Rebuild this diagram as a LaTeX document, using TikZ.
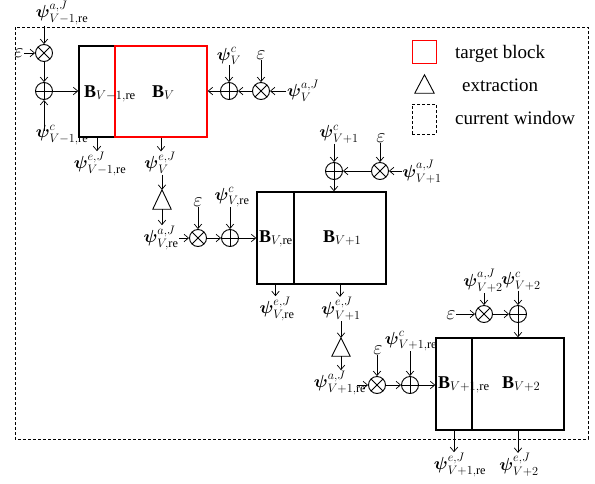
\documentclass[tikz,border=0pt]{standalone}
\usepackage{fix-cm}
\usepackage{amsmath}
\usepackage{fontspec}
\setmainfont{Liberation Serif}
\usetikzlibrary{arrows.meta,calc}
\newcommand\psilab[2]{$\boldsymbol{\psi}^{#1}_{#2}$}
\begin{document}
\begin{tikzpicture}[x=1pt,y=-1pt,
  arr/.style={-{Straight Barb[length=4.5pt,width=7.5pt]}, line width=0.7pt},
  lab/.style={inner sep=0.5pt, font=\fontsize{17.5}{20}\selectfont},
  eps/.style={inner sep=0.5pt, font=\fontsize{20}{22}\selectfont},
  blk/.style={draw, line width=1.4pt, inner sep=0},
  btxt/.style={inner sep=0, font=\fontsize{18}{20}\selectfont, anchor=base west},
  opx/.style={circle, draw, line width=0.9pt, minimum size=17pt, inner sep=0},
  xmul/.style={opx, path picture={\draw[line width=0.9pt] (path picture bounding box.north west) -- (path picture bounding box.south east) (path picture bounding box.north east) -- (path picture bounding box.south west);}},
  xadd/.style={opx, path picture={\draw[line width=0.9pt] (path picture bounding box.north) -- (path picture bounding box.south) (path picture bounding box.west) -- (path picture bounding box.east);}},
  tri/.style={inner sep=0, minimum width=18pt, minimum height=19pt},
  trid/.style={line width=0.9pt, line join=miter},
  legtxt/.style={inner sep=0, font=\fontsize{19}{21}\selectfont, anchor=base west},
  win/.style={dash pattern=on 3pt off 2pt, line width=0.7pt}
]
\useasboundingbox (0,0) rectangle (595,483);
\draw[win] (15,27) rectangle (588,439);

% ---------- group 1 ----------
\node[blk, minimum width=36pt, minimum height=91pt] (B1L) at (97,91.5) {};
\node[blk, draw=red, minimum width=92pt, minimum height=91pt] (B1R) at (161,91.5) {};
\node[btxt] (B1Lt) at (84,97) {$\mathbf{B}_{V-1,\mathrm{re}}$};
\node[btxt] (B1Rt) at (152,97) {$\mathbf{B}_{V}$};

\node[xmul] (O1) at (44,53) {};
\node[xadd] (P1) at (44,91) {};
\node[eps] (E1) at (19,53) {$\varepsilon$};
\node[lab] (L1a) at (62,13) {\psilab{a,J}{V-1,\mathrm{re}}};
\node[lab] (L1c) at (62,135) {\psilab{c}{V-1,\mathrm{re}}};
\node[lab] (L1e) at (100,164) {\psilab{e,J}{V-1,\mathrm{re}}};
\node[lab] (L1V) at (160,163) {\psilab{e,J}{V}};

\node[xadd] (P1r) at (229,91) {};
\node[xmul] (O1r) at (261,91) {};
\node[lab] (L1Vc) at (229,56) {\psilab{c}{V}};
\node[eps] (E1r) at (261,55) {$\varepsilon$};
\node[lab] (L1Va) at (303,91) {\psilab{a,J}{V}};

\node[tri] (T1) at (162,199.5) {};
\draw[trid] (T1.north) -- (T1.south east) -- (T1.south west) -- cycle;
\node[lab] (L2a) at (161,238) {\psilab{a,J}{V,\mathrm{re}}};

% ---------- group 2 ----------
\node[xmul] (O2) at (198,238) {};
\node[xadd] (P2) at (230,238) {};
\node[eps] (E2) at (198,202) {$\varepsilon$};
\node[lab] (L2c) at (232,197) {\psilab{c}{V,\mathrm{re}}};

\node[blk, minimum width=37pt, minimum height=92pt] (B2L) at (275.5,238) {};
\node[blk, minimum width=92pt, minimum height=92pt] (B2R) at (340,238) {};
\node[btxt] (B2Lt) at (259,242) {$\mathbf{B}_{V,\mathrm{re}}$};
\node[btxt] (B2Rt) at (323,242) {$\mathbf{B}_{V+1}$};

\node[xadd] (P2t) at (334,171) {};
\node[xmul] (O2t) at (380,171) {};
\node[lab] (L2tc) at (339,134) {\psilab{c}{V+1}};
\node[eps] (E2t) at (381,138) {$\varepsilon$};
\node[lab] (L2ta) at (422,172) {\psilab{a,J}{V+1}};

\node[lab] (L2e) at (277,309) {\psilab{e,J}{V,\mathrm{re}}};
\node[lab] (L2e2) at (341,309) {\psilab{e,J}{V+1}};

% ---------- group 3 ----------
\node[tri, minimum height=18pt] (T3) at (341,347) {};
\draw[trid] (T3.north) -- (T3.south east) -- (T3.south west) -- cycle;
\node[lab] (L3a) at (340,383) {\psilab{a,J}{V+1,\mathrm{re}}};
\node[xmul] (O3) at (377,385) {};
\node[xadd] (P3) at (410,385) {};
\node[eps] (E3) at (378,350) {$\varepsilon$};
\node[lab] (L3c) at (411,341) {\psilab{c}{V+1,\mathrm{re}}};

\node[blk, minimum width=36pt, minimum height=92pt] (B3L) at (454,384) {};
\node[blk, minimum width=92pt, minimum height=92pt] (B3R) at (518,384) {};
\node[btxt] (B3Lt) at (438,388) {$\mathbf{B}_{V+1,\mathrm{re}}$};
\node[btxt] (B3Rt) at (502,388) {$\mathbf{B}_{V+2}$};

\node[xmul] (O3t) at (484,314) {};
\node[xadd] (P3t) at (518,314) {};
\node[eps] (E3t) at (451,315) {$\varepsilon$};
\node[lab] (L3ta) at (483,281) {\psilab{a,J}{V+2}};
\node[lab] (L3tc) at (521,281) {\psilab{c}{V+2}};

\node[lab] (L3e) at (460,465) {\psilab{e,J}{V+1,\mathrm{re}}};
\node[lab] (L3e2) at (519,465) {\psilab{e,J}{V+2}};

% ---------- legend ----------
\node[draw=red, line width=1pt, minimum width=24pt, minimum height=23pt, inner sep=0] (LgR) at (424,51.5) {};
\node[legtxt] (LgRt) at (455,58) {target block};
\node[tri, minimum width=19pt, minimum height=18pt] (LgT) at (424.5,84) {};
\draw[trid] (LgT.north) -- (LgT.south east) -- (LgT.south west) -- cycle;
\node[legtxt] (LgTt) at (462,91) {extraction};
\node[draw, win, minimum width=24pt, minimum height=30pt, inner sep=0] (LgW) at (424,119) {};
\node[legtxt] (LgWt) at (455,124) {current window};

% ---------- connectors ----------
\draw[arr] (E1.east) -- (O1.west);
\draw[arr] (L1a.south -| O1.north) -- (O1.north);
\draw[arr] (O1.south) -- (P1.north);
\draw[arr] ($(L1c.north -| P1.south)+(0,6)$) -- (P1.south);
\draw[arr] (P1.east) -- (P1.east -| B1L.west);
\draw[arr] (B1L.south) -- (B1L.south |- L1e.north);
\draw[arr] (B1R.south) -- (B1R.south |- L1V.north);

\draw[arr] (L1Vc.south -| P1r.north) -- (P1r.north);
\draw[arr] (E1r.south) -- (O1r.north);
\draw[arr] (L1Va.west) -- (O1r.east);
\draw[arr] (O1r.west) -- (P1r.east);
\draw[arr] (P1r.west) -- (P1r.west -| B1R.east);

\draw[arr] (L1V.south -| T1.north) -- (T1.north);
\draw[arr] (T1.south) -- (T1.south |- L2a.north);

\draw[arr] (L2a.east |- O2.west) -- (O2.west);
\draw[arr] (E2.south) -- (O2.north);
\draw[arr] (L2c.south -| P2.north) -- (P2.north);
\draw[arr] (O2.east) -- (P2.west);
\draw[arr] (P2.east) -- (P2.east -| B2L.west);

\draw[arr] (L2tc.south -| P2t.north) -- (P2t.north);
\draw[arr] (E2t.south -| O2t.north) -- (O2t.north);
\draw[arr] (L2ta.west |- O2t.east) -- (O2t.east);
\draw[arr] (O2t.west) -- (P2t.east);
\draw[arr] (P2t.south) -- (P2t.south |- B2R.north);

\draw[arr] (B2L.south) -- (B2L.south |- L2e.north);
\draw[arr] (B2R.south) -- (B2R.south |- L2e2.north);

\draw[arr] (L2e2.south -| T3.north) -- (T3.north);
\draw[arr] (T3.south) -- (T3.south |- L3a.north);
\draw[arr] ($(L3a.east |- O3.west)+(-10,0)$) -- (O3.west);
\draw[arr] (E3.south -| O3.north) -- (O3.north);
\draw[arr] (L3c.south -| P3.north) -- (P3.north);
\draw[arr] (O3.east) -- (P3.west);
\draw[arr] (P3.east) -- (P3.east -| B3L.west);

\draw[arr] (E3t.east |- O3t.west) -- (O3t.west);
\draw[arr] (L3ta.south -| O3t.north) -- (O3t.north);
\draw[arr] (L3tc.south -| P3t.north) -- (P3t.north);
\draw[arr] (O3t.east) -- (P3t.west);
\draw[arr] (P3t.south) -- (P3t.south |- B3R.north);

\draw[arr] (B3L.south) -- (B3L.south |- L3e.north);
\draw[arr] (B3R.south) -- (B3R.south |- L3e2.north);
\end{tikzpicture}
\end{document}
